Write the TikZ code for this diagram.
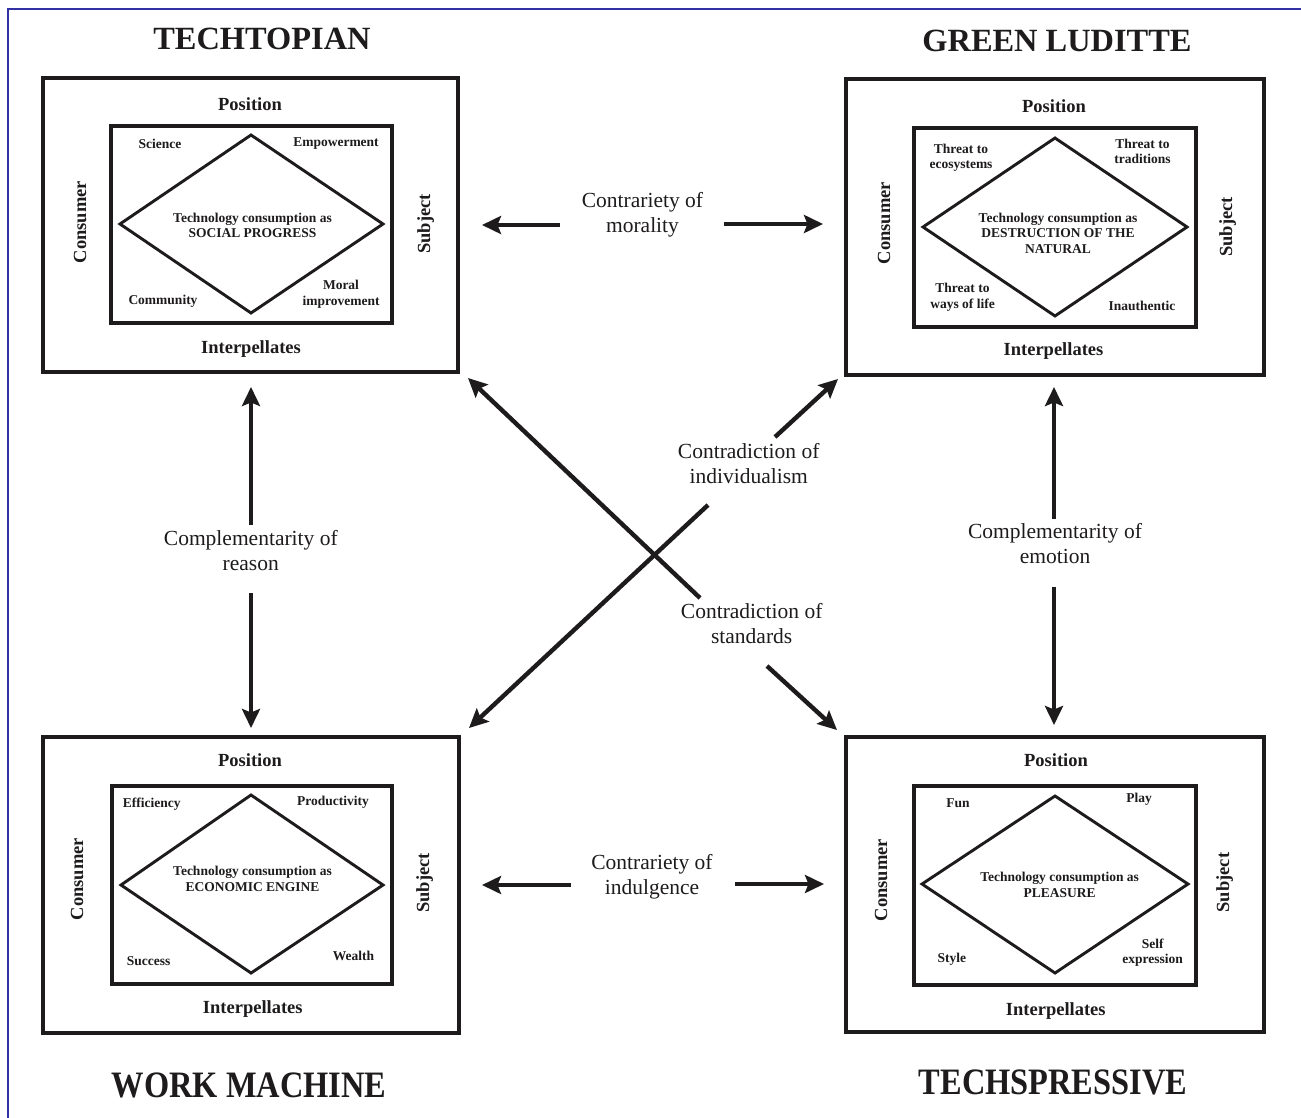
\documentclass[tikz,border=0pt]{standalone}
\usepackage{fontspec}
\setmainfont{Liberation Serif}
\usetikzlibrary{arrows.meta}
\definecolor{ink}{RGB}{30,27,28}
\definecolor{frameblue}{RGB}{50,50,165}
\begin{document}
\begin{tikzpicture}[x=1pt,y=-1pt,
  outerframe/.style={draw=ink, line width=3.1pt, anchor=north west, inner sep=0pt, outer sep=0pt},
  innerframe/.style={draw=ink, line width=3.1pt},
  diam/.style={draw=ink, line width=2.9pt, line join=miter},
  axislbl/.style={font=\fontsize{18.5}{22}\selectfont\bfseries, text=ink, inner sep=0pt},
  corner/.style={font=\fontsize{13.5}{15.5}\selectfont\bfseries, text=ink, inner sep=0pt, align=center},
  core/.style={font=\fontsize{13.5}{15.5}\selectfont\bfseries, text=ink, inner sep=0pt, align=center},
  titlelbl/.style={font=\fontsize{32.4}{38}\selectfont\bfseries, text=ink, inner sep=0pt, anchor=base},
  linklbl/.style={font=\fontsize{21.5}{24.5}\selectfont, text=ink, inner sep=0pt, align=center},
  arr/.style={draw=ink, line width=4.4pt, -{Stealth[length=19pt,width=18pt,inset=3.5pt]}}
]
\fill[white] (0,0) rectangle (1301,1118);
\useasboundingbox (0,0) rectangle (1301,1118);
\draw[frameblue, line width=1.4pt] (8,1118) -- (8,9) -- (1301,9);

% ---------- titles
\node[titlelbl] (t-techtopian) at (262,49.3) {TECHTOPIAN};
\node[titlelbl] (t-green) at (1057,52) {GREEN LUDITTE};
\node[titlelbl] (t-work) at (249,1097) {\scalebox{1}[1.15]{WORK MACHINE}};
\node[titlelbl] (t-techspressive) at (1053,1094) {\scalebox{1}[1.15]{TECHSPRESSIVE}};

% ---------- top left box
\node[outerframe, minimum width=415pt, minimum height=294pt] (tlbox) at (43,78) {};
\begin{scope}[shift={(43,78)}]
 \draw[innerframe] (68,48) rectangle (349,245);
 \draw[diam] (208,57) -- (340,146) -- (208,235) -- (77,146) -- cycle;
 \node[axislbl, anchor=base] (tl-pos) at (207,33) {Position};
 \node[axislbl, anchor=base] (tl-int) at (208,275) {Interpellates};
 \node[axislbl, rotate=90, anchor=base] (tl-con) at (43,144) {Consumer};
 \node[axislbl, rotate=90, anchor=base] (tl-sub) at (387,146) {Subject};
 \node[corner, anchor=base] (tl-sci) at (117,71) {Science};
 \node[corner, anchor=base] (tl-emp) at (293,69) {Empowerment};
 \node[corner, anchor=base] (tl-com) at (120,226) {Community};
 \node[corner] (tl-mor) at (298,216.4) {Moral\\improvement};
 \node[core] (tl-core) at (209.5,147.5) {Technology consumption as\\SOCIAL PROGRESS};
\end{scope}

% ---------- top right box
\node[outerframe, minimum width=418pt, minimum height=296pt] (trbox) at (846,79) {};
\begin{scope}[shift={(846,79)}]
 \draw[innerframe] (68,49) rectangle (350,248);
 \draw[diam] (209,59) -- (341,148) -- (209,237) -- (77,148) -- cycle;
 \node[axislbl, anchor=base] (tr-pos) at (208,33.7) {Position};
 \node[axislbl, anchor=base] (tr-int) at (207.5,276) {Interpellates};
 \node[axislbl, rotate=90, anchor=base] (tr-con) at (44,144) {Consumer};
 \node[axislbl, rotate=90, anchor=base] (tr-sub) at (386,148) {Subject};
 \node[corner] (tr-eco) at (115,78.9) {Threat to\\ecosystems};
 \node[corner] (tr-tra) at (296.5,72.4) {Threat to\\traditions};
 \node[corner] (tr-way) at (116.5,218.3) {Threat to\\ways of life};
 \node[corner, anchor=base] (tr-ina) at (296,231.7) {Inauthentic};
 \node[core] (tr-core) at (212,153.9) {Technology consumption as\\DESTRUCTION OF THE\\NATURAL};
\end{scope}

% ---------- bottom left box
\node[outerframe, minimum width=416pt, minimum height=296pt] (blbox) at (43,737) {};
\begin{scope}[shift={(43,737)}]
 \draw[innerframe] (69,49) rectangle (349,247);
 \draw[diam] (208,58) -- (340,148) -- (208,236) -- (78,148) -- cycle;
 \node[axislbl, anchor=base] (bl-pos) at (207,29) {Position};
 \node[axislbl, anchor=base] (bl-int) at (209.8,276) {Interpellates};
 \node[axislbl, rotate=90, anchor=base] (bl-con) at (40,142) {Consumer};
 \node[axislbl, rotate=90, anchor=base] (bl-sub) at (386,146) {Subject};
 \node[corner, anchor=base] (bl-eff) at (108.7,70) {Efficiency};
 \node[corner, anchor=base] (bl-pro) at (290,68) {Productivity};
 \node[corner, anchor=base] (bl-suc) at (105.7,228.7) {Success};
 \node[corner, anchor=base] (bl-wea) at (310.5,223) {Wealth};
 \node[core] (bl-core) at (209.5,141.9) {Technology consumption as\\ECONOMIC ENGINE};
\end{scope}

% ---------- bottom right box
\node[outerframe, minimum width=418pt, minimum height=295pt] (brbox) at (846,737) {};
\begin{scope}[shift={(846,737)}]
 \draw[innerframe] (68,49) rectangle (350,248);
 \draw[diam] (209,59) -- (342,147) -- (209,236) -- (76,147) -- cycle;
 \node[axislbl, anchor=base] (br-pos) at (210,29) {Position};
 \node[axislbl, anchor=base] (br-int) at (209.8,278) {Interpellates};
 \node[axislbl, rotate=90, anchor=base] (br-con) at (41,143) {Consumer};
 \node[axislbl, rotate=90, anchor=base] (br-sub) at (383,145.5) {Subject};
 \node[corner, anchor=base] (br-fun) at (112,70) {Fun};
 \node[corner, anchor=base] (br-pla) at (293,65) {Play};
 \node[corner, anchor=base] (br-sty) at (105.8,225.7) {Style};
 \node[corner] (br-sel) at (306.7,215.9) {Self\\expression};
 \node[core] (br-core) at (213.7,147.9) {Technology consumption as\\PLEASURE};
\end{scope}

% ---------- link labels
\node[linklbl] (lbl-mor) at (642.5,214.9) {Contrariety of\\morality};
\node[linklbl] (lbl-ind) at (652,876.9) {Contrariety of\\indulgence};
\node[linklbl] (lbl-rea) at (250.8,550.5) {Complementarity of\\reason};
\node[linklbl] (lbl-emo) at (1055,543.7) {Complementarity of\\emotion};
\node[linklbl] (lbl-indiv) at (748.7,463.5) {Contradiction of\\individualism};
\node[linklbl] (lbl-std) at (751.7,623.5) {Contradiction of\\standards};

% ---------- arrow end points
\coordinate (mor-l0) at (560,225);  \coordinate (mor-l1) at (482,225);
\coordinate (mor-r0) at (724,224);  \coordinate (mor-r1) at (823,224);
\coordinate (ind-l0) at (571,885);  \coordinate (ind-l1) at (482,885);
\coordinate (ind-r0) at (735,884);  \coordinate (ind-r1) at (824,884);
\coordinate (rea-u0) at (251,525);  \coordinate (rea-u1) at (251,387);
\coordinate (rea-d0) at (251,593);  \coordinate (rea-d1) at (251,728);
\coordinate (emo-u0) at (1054,519); \coordinate (emo-u1) at (1054,387);
\coordinate (emo-d0) at (1054,587); \coordinate (emo-d1) at (1054,725);
\coordinate (std-a0) at (700,598);  \coordinate (std-a1) at (468,378);
\coordinate (std-b0) at (767,666);  \coordinate (std-b1) at (837,730);
\coordinate (indiv-a0) at (708,505); \coordinate (indiv-a1) at (469,728);
\coordinate (indiv-b0) at (775,437); \coordinate (indiv-b1) at (838,379);

\draw[arr] (mor-l0) -- (mor-l1);
\draw[arr] (mor-r0) -- (mor-r1);
\draw[arr] (ind-l0) -- (ind-l1);
\draw[arr] (ind-r0) -- (ind-r1);
\draw[arr] (rea-u0) -- (rea-u1);
\draw[arr] (rea-d0) -- (rea-d1);
\draw[arr] (emo-u0) -- (emo-u1);
\draw[arr] (emo-d0) -- (emo-d1);
\draw[arr] (std-a0) -- (std-a1);
\draw[arr] (std-b0) -- (std-b1);
\draw[arr] (indiv-a0) -- (indiv-a1);
\draw[arr] (indiv-b0) -- (indiv-b1);
\end{tikzpicture}
\end{document}
